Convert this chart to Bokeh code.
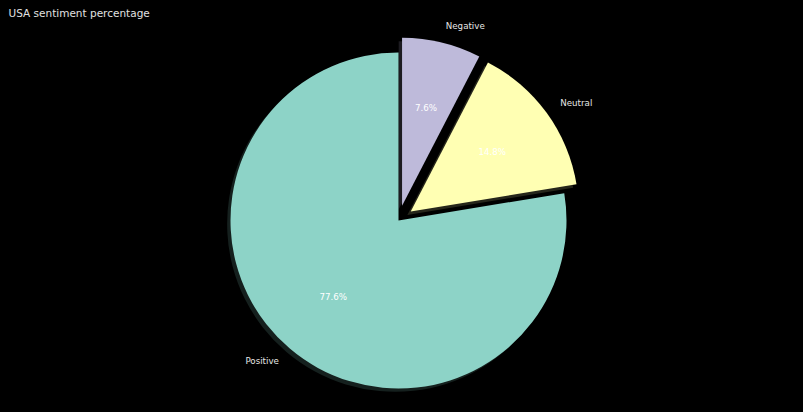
import numpy as np
from bokeh.plotting import figure
from bokeh.models import ColumnDataSource, Range1d, Label
from bokeh.core.properties import value
from bokeh.embed import file_html
from bokeh.resources import INLINE

# ---- data ----
categories = ["Positive", "Neutral", "Negative"]
percentages = [77.6, 14.8, 7.6]
explode = [0.0, 0.09, 0.09]
colors = ["#8dd3c7", "#ffffb3", "#bebada"]
title_text = "USA sentiment percentage"

# ---- geometry (data units == pixels) ----
W, H = 803, 412
cx, cy, R = 398.0, 192.0, 168.0
start_deg = 90.0

vals = np.array(percentages, dtype=float)
frac = vals / vals.sum()
ends = start_deg + 360.0 * np.cumsum(frac)
starts = ends - 360.0 * frac
mids = np.deg2rad((starts + ends) / 2.0)
ex = np.array(explode) * R
wx = cx + ex * np.cos(mids)
wy = cy + ex * np.sin(mids)

def shade(c, f=0.3):
    c = c.lstrip("#")
    r, g, b = (int(c[i:i + 2], 16) for i in (0, 2, 4))
    return "#%02x%02x%02x" % (int(r * f), int(g * f), int(b * f))

src = ColumnDataSource(dict(
    x=wx, y=wy, sx=wx - 0.02 * R, sy=wy - 0.02 * R,
    start=np.deg2rad(starts), end=np.deg2rad(ends),
    color=colors, shadow=[shade(c) for c in colors],
))

p = figure(width=W, height=H, output_backend="svg", toolbar_location=None,
           x_range=Range1d(0, W), y_range=Range1d(0, H),
           x_axis_location=None, y_axis_location=None, min_border=0,
           background_fill_color="#000000", border_fill_color="#000000",
           outline_line_color=None)
p.grid.visible = False

p.wedge(x="sx", y="sy", radius=R, start_angle="start", end_angle="end",
        fill_color="shadow", fill_alpha=0.5, line_color=None, source=src)
p.wedge(x="x", y="y", radius=R, start_angle="start", end_angle="end",
        fill_color="color", line_color=None, source=src)

# outer labels
lx = wx + 1.1 * R * np.cos(mids)
ly = wy + 1.1 * R * np.sin(mids)
align = ["left" if np.cos(m) > 0 else "right" for m in mids]
lsrc = ColumnDataSource(dict(x=lx, y=ly, t=categories, a=align))
p.text(x="x", y="y", text="t", text_align="a", text_baseline="middle",
       text_font=value("DejaVu Sans"), text_font_size="8.7px",
       text_color="#e6e6e6", source=lsrc)

# percentage labels
px = wx + 0.6 * R * np.cos(mids)
py = wy + 0.6 * R * np.sin(mids)
psrc = ColumnDataSource(dict(x=px, y=py, t=["%.1f%%" % v for v in percentages]))
p.text(x="x", y="y", text="t", text_align="center", text_baseline="middle",
       text_font=value("DejaVu Sans"), text_font_size="8.7px",
       text_color="#ffffff", source=psrc)

p.add_layout(Label(x=8, y=H - 12, x_units="screen", y_units="screen",
                   text=title_text, text_font="DejaVu Sans",
                   text_font_size="10.5px", text_color="#e0e0e0",
                   text_baseline="middle", text_align="left"))

html = file_html(p, INLINE)
html = html.replace("</head>", "<style>html,body{background:#000000;}</style></head>", 1)
open("out.html", "w").write(html)
